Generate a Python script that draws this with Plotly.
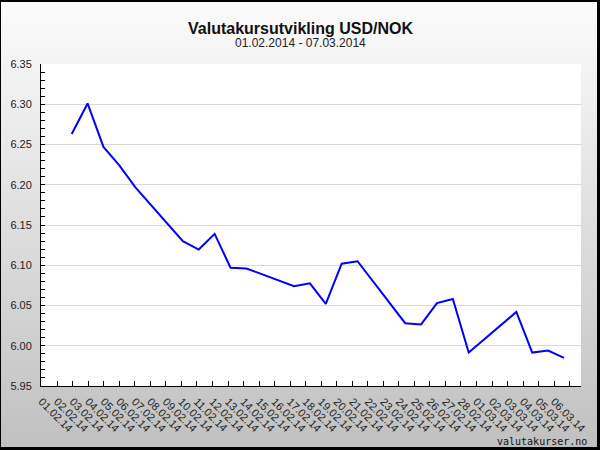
import plotly.graph_objects as go
import pandas as pd

title_text = "Valutakursutvikling USD/NOK"
subtitle_text = "01.02.2014 - 07.03.2014"
watermark = "valutakurser.no"

# trading days and USD/NOK rates
dates = ["2014-02-03", "2014-02-04", "2014-02-05", "2014-02-06", "2014-02-07",
         "2014-02-10", "2014-02-11", "2014-02-12", "2014-02-13", "2014-02-14",
         "2014-02-17", "2014-02-18", "2014-02-19", "2014-02-20", "2014-02-21",
         "2014-02-24", "2014-02-25", "2014-02-26", "2014-02-27", "2014-02-28",
         "2014-03-03", "2014-03-04", "2014-03-05", "2014-03-06"]
rates = [6.263, 6.301, 6.247, 6.224, 6.197,
         6.130, 6.1195, 6.139, 6.097, 6.096,
         6.074, 6.0775, 6.052, 6.102, 6.105,
         6.028, 6.0265, 6.053, 6.058, 5.9915,
         6.042, 5.9915, 5.994, 5.985]

period_start = "2014-02-01"
period_end = "2014-03-07"
tick_dates = [d.strftime("%Y-%m-%d") for d in pd.date_range(period_start, period_end)]
tick_labels = [pd.Timestamp(d).strftime("%d.%m.%y") for d in tick_dates]

y_min, y_max = 5.95, 6.35

W, H = 600, 450
L, R, T, B = 41, 19, 64, 64
plot_w = W - L - R
plot_h = H - T - B

start = pd.Timestamp(period_start)
def day_off(d):
    return (start + pd.Timedelta(days=d)).strftime("%Y-%m-%d %H:%M:%S")

fig = go.Figure()
# empty trace that anchors the labelled date axis
fig.add_trace(go.Scatter(
    x=tick_dates, y=[None] * len(tick_dates), mode="lines", xaxis="x", yaxis="y",
    hoverinfo="skip", showlegend=False,
))
fig.add_trace(go.Scatter(
    x=dates, y=rates, mode="lines", xaxis="x2", yaxis="y",
    line=dict(color="#0000ff", width=2), hoverinfo="skip", showlegend=False,
))

font_family = "Liberation Sans, Arial, sans-serif"

# background gradient bands
shapes = []
n_bands = 90
for i in range(n_bands):
    y0px = i * H / n_bands
    y1px = (i + 1) * H / n_bands
    c = int(round(252 - 60 * ((y0px + y1px) / 2) / H))
    shapes.append(dict(
        type="rect", xref="paper", yref="paper", layer="below",
        x0=-L / plot_w, x1=(W - L) / plot_w,
        y0=(H - B - y1px) / plot_h, y1=(H - B - y0px) / plot_h,
        fillcolor=f"rgb({c},{c},{c})", line=dict(width=0),
    ))
# white plot area
shapes.append(dict(type="rect", xref="paper", yref="paper", layer="below",
                   x0=0, x1=1, y0=0, y1=1, fillcolor="white", line=dict(width=0)))
# outer frame
def px_rect(x0, y0, x1, y1):
    return dict(type="rect", xref="paper", yref="paper", layer="above",
                x0=(x0 - L) / plot_w, x1=(x1 - L) / plot_w,
                y0=(H - B - y1) / plot_h, y1=(H - B - y0) / plot_h,
                fillcolor="black", line=dict(width=0))
shapes += [px_rect(0, 0, W, 2), px_rect(0, 0, 1, H),
           px_rect(W - 3, 0, W, H), px_rect(0, H - 3, W, H)]

fig.update_layout(
    width=W, height=H,
    margin=dict(l=L, r=R, t=T, b=B, pad=0),
    paper_bgcolor="#dcdcdc", plot_bgcolor="white",
    font=dict(family=font_family, color="#222222"),
    showlegend=False,
    shapes=shapes,
    xaxis=dict(
        type="date", range=[day_off(-0.045), day_off(34.73)],
        tickmode="array", tickvals=tick_dates, ticktext=tick_labels,
        tickangle=45, tickfont=dict(size=11, color="#222222"),
        ticks="inside", ticklen=5, tickcolor="black", tickwidth=1,
        showline=True, linecolor="black", linewidth=1,
        showgrid=False, zeroline=False, fixedrange=True,
        ticklabelstandoff=4, automargin=False,
    ),
    xaxis2=dict(
        type="date", overlaying="x", range=[day_off(0.067), day_off(34.07)],
        visible=False, fixedrange=True,
    ),
    yaxis=dict(
        range=[y_min, y_max], dtick=0.05, tick0=5.95, tickformat=".2f",
        tickfont=dict(size=11, color="#222222"),
        ticks="inside", ticklen=4, tickcolor="black", tickwidth=1,
        minor=dict(dtick=0.01, ticks="inside", ticklen=4, tickcolor="black", showgrid=False),
        showline=True, linecolor="black", linewidth=1,
        showgrid=True, gridcolor="#d9d9d9", gridwidth=1,
        zeroline=False, fixedrange=True, ticklabelstandoff=6, automargin=False,
    ),
    annotations=[
        dict(text=title_text, xref="paper", yref="paper", x=(300 - L) / plot_w,
             y=(H - B - 28) / plot_h, xanchor="center", yanchor="middle", showarrow=False,
             font=dict(size=16, family="Liberation Sans, Arial", color="#111111", weight="bold")),
        dict(text=subtitle_text, xref="paper", yref="paper", x=(300 - L) / plot_w,
             y=(H - B - 43.5) / plot_h, xanchor="center", yanchor="middle", showarrow=False,
             font=dict(size=12, family="Liberation Sans, Arial", color="#222222")),
        dict(text=watermark, xref="paper", yref="paper", x=(589 - L) / plot_w,
             y=(H - B - 441.5) / plot_h, xanchor="right", yanchor="middle", showarrow=False,
             font=dict(size=10, family="DejaVu Sans Mono, monospace", color="#111111")),
    ],
)

fig.write_html("out.html", config={"displayModeBar": False},
               post_script="document.body.style.margin='0';")
